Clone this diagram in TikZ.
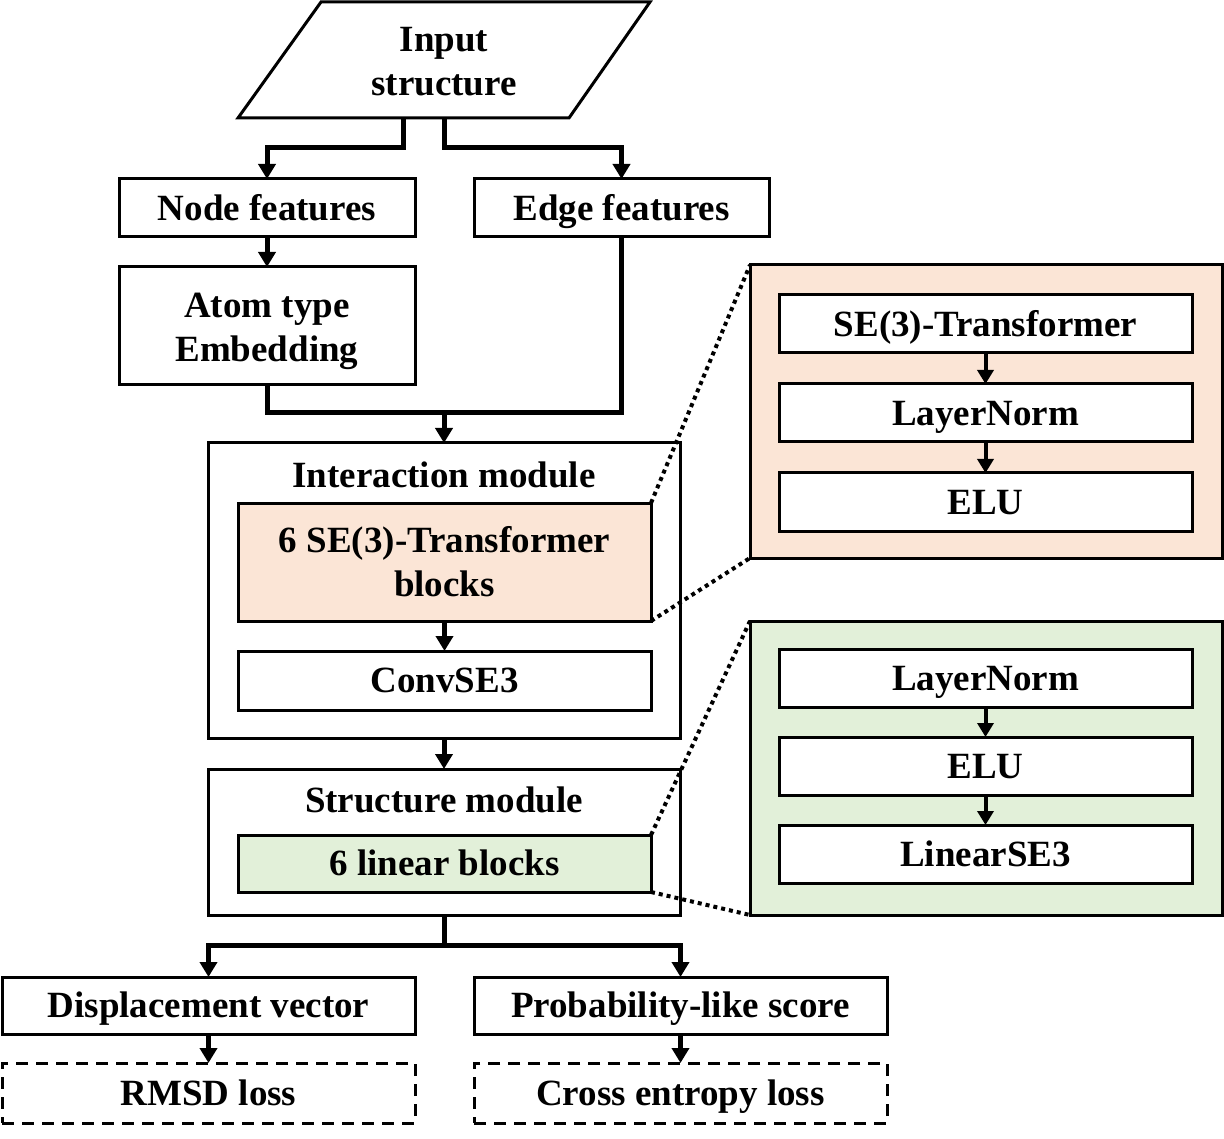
\documentclass[tikz,border=0pt]{standalone}
\usepackage{fontspec}
\setmainfont{Liberation Serif}
\usetikzlibrary{arrows.meta}
\definecolor{peach}{HTML}{FBE5D6}
\definecolor{lgreen}{HTML}{E2F0D9}
\tikzset{
  txt/.style={font=\bfseries\fontsize{37}{44}\selectfont, align=center},
  box/.style={txt, draw, line width=3pt, fill=white, inner sep=0pt, outer sep=0pt, line join=miter},
  one/.style={text height=32pt, text depth=7.5pt},
  dbox/.style={box, one, dash pattern=on 12pt off 8pt},
  link/.style={line width=5pt, line join=miter},
  arr/.style={link, -{Triangle[length=15pt,width=17pt]}},
  sarr/.style={line width=4pt, -{Triangle[length=14pt,width=16pt]}},
  dotline/.style={line width=4pt, dash pattern=on 4pt off 4pt},
}
\begin{document}
\begin{tikzpicture}[x=1pt,y=-1pt]
\useasboundingbox (0,0) rectangle (1224,1139);
% input parallelogram
\draw[line width=3pt, line join=miter] (321,2) -- (650,2) -- (569,118) -- (238,118) -- cycle;
\node[txt] (inp) at (444,62) {Input\\structure};
\coordinate (inL) at (403,118);
\coordinate (inR) at (444,118);
% first row
\node[box, one, minimum width=296, minimum height=58] (nf) at (267,208) {Node features};
\node[box, one, minimum width=295, minimum height=58] (ef) at (621.5,208) {Edge features};
\node[box, minimum width=296, minimum height=118] (at) at (267,326) {};
\node[txt] (att) at (267,331) {Atom type\\Embedding};
% interaction module
\node[box, minimum width=472, minimum height=295] (im) at (444,590.5) {};
\node[txt] (imt) at (444,475) {Interaction module};
\node[box, fill=peach, minimum width=413, minimum height=118] (se) at (444.5,562) {6 SE(3)-Transformer\\blocks};
\node[box, one, minimum width=413, minimum height=59] (cv) at (444.5,680.5) {ConvSE3};
% structure module
\node[box, minimum width=472, minimum height=146] (sm) at (444,842) {};
\node[txt] (smt) at (444,800) {Structure module};
\node[box, one, fill=lgreen, minimum width=413, minimum height=57] (lb) at (444.5,863.5) {6 linear blocks};
% outputs
\node[box, one, minimum width=413, minimum height=57] (dv) at (208.5,1005.5) {Displacement vector};
\node[box, one, minimum width=413, minimum height=57] (ps) at (680.5,1005.5) {Probability-like score};
\node[dbox, minimum width=413, minimum height=60] (rl) at (208.5,1093) {RMSD loss};
\node[dbox, minimum width=413, minimum height=60] (cl) at (680.5,1093) {Cross entropy loss};
% right panels
\node[box, fill=peach, minimum width=472, minimum height=293] (pp) at (986,411.5) {};
\node[box, one, minimum width=413, minimum height=58] (p1) at (985.5,324) {SE(3)-Transformer};
\node[box, one, minimum width=413, minimum height=58] (p2) at (985.5,413) {LayerNorm};
\node[box, one, minimum width=413, minimum height=58] (p3) at (985.5,502) {ELU};
\node[box, fill=lgreen, minimum width=472, minimum height=294] (gp) at (986,768) {};
\node[box, one, minimum width=413, minimum height=58] (g1) at (985.5,678) {LayerNorm};
\node[box, one, minimum width=413, minimum height=58] (g2) at (985.5,766) {ELU};
\node[box, one, minimum width=413, minimum height=58] (g3) at (985.5,854) {LinearSE3};
% connectors
\draw[arr] (inL) -- (403,148) -| (nf.north);
\draw[arr] (inR) -- (444,148) -| (ef.north);
\draw[arr] (nf.south) -- (at.north);
\coordinate (mj) at (444,413);
\draw[link] (at.south) |- (ef.south |- mj) -- (ef.south);
\draw[arr] (mj) -- (im.north);
\draw[arr] (se.south) -- (cv.north);
\draw[arr] (im.south) -- (sm.north);
\coordinate (sp) at (444,945);
\draw[link] (sm.south) -- (sp);
\draw[arr] (sp) -| (dv.north);
\draw[arr] (sp) -| (ps.north);
\draw[arr] (dv.south) -- (rl.north);
\draw[arr] (ps.south) -- (cl.north);
\draw[sarr] (p1.south) -- (p2.north);
\draw[sarr] (p2.south) -- (p3.north);
\draw[sarr] (g1.south) -- (g2.north);
\draw[sarr] (g2.south) -- (g3.north);
% zoom lines
\draw[dotline] (se.north east) -- (pp.north west);
\draw[dotline] (se.south east) -- (pp.south west);
\draw[dotline] (lb.north east) -- (gp.north west);
\draw[dotline] (lb.south east) -- (gp.south west);
\end{tikzpicture}
\end{document}
